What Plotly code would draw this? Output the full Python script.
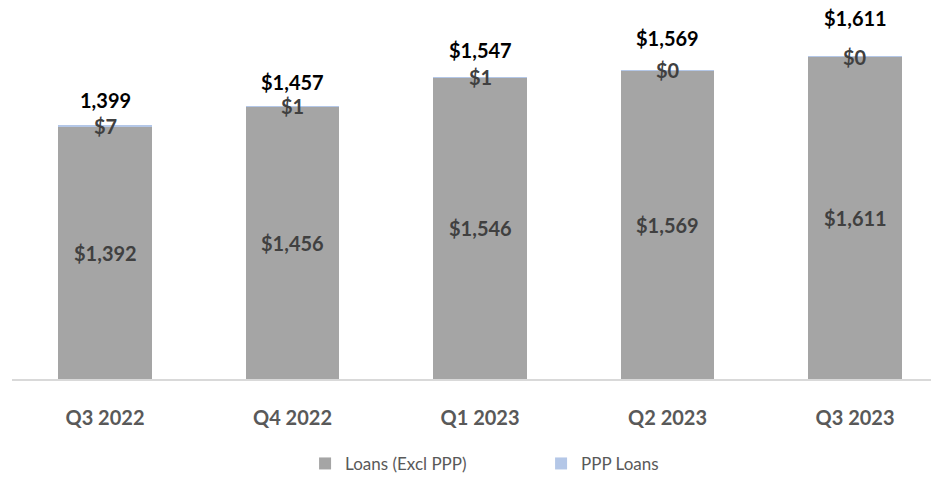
import plotly.graph_objects as go

categories = ["Q3 2022", "Q4 2022", "Q1 2023", "Q2 2023", "Q3 2023"]
loans_excl_ppp = [1392, 1456, 1546, 1569, 1611]
ppp_loans = [7, 1, 1, 0.3, 0.2]
ppp_labels = ["$7", "$1", "$1", "$0", "$0"]
loans_labels = ["$1,392", "$1,456", "$1,546", "$1,569", "$1,611"]
totals = [1399, 1457, 1547, 1569, 1611]
total_labels = ["1,399", "$1,457", "$1,547", "$1,569", "$1,611"]
total_label_shift = [25, 24, 27, 32, 39]

Y_MIN = 606
Y_MAX = 1772

FONT = "Lato"
GRAY = "#A5A5A5"
BLUE = "#B4C7E7"

fig = go.Figure()
fig.add_trace(go.Bar(name="Loans (Excl PPP)", x=categories, y=loans_excl_ppp,
                     marker=dict(color=GRAY, line=dict(width=0)), hoverinfo="skip"))
fig.add_trace(go.Bar(name="PPP Loans", x=categories, y=ppp_loans,
                     marker=dict(color=BLUE, line=dict(width=0)), hoverinfo="skip"))

annotations = []
for i, c in enumerate(categories):
    annotations.append(dict(x=c, y=(Y_MIN + loans_excl_ppp[i]) / 2, text=f"<b>{loans_labels[i]}</b>",
                            showarrow=False, font=dict(family=FONT, size=20, color="#404040")))
    annotations.append(dict(x=c, y=loans_excl_ppp[i] + ppp_loans[i] / 2, text=f"<b>{ppp_labels[i]}</b>",
                            showarrow=False, font=dict(family=FONT, size=20, color="#404040")))
    annotations.append(dict(x=c, y=totals[i], yshift=total_label_shift[i], text=f"<b>{total_labels[i]}</b>",
                            showarrow=False, font=dict(family=FONT, size=20, color="#000000")))

fig.update_layout(
    barmode="stack",
    bargap=0.5,
    width=932, height=477,
    margin=dict(l=12, r=1, t=5, b=98, autoexpand=False),
    plot_bgcolor="white", paper_bgcolor="white",
    font=dict(family=FONT, color="#595959"),
    showlegend=True,
    legend=dict(orientation="h", x=0.3189, xanchor="left", y=-0.227, yanchor="middle",
                font=dict(family=FONT, size=17, color="#595959"), traceorder="normal",
                itemwidth=30, entrywidth=191),
    annotations=annotations,
    xaxis=dict(range=[-0.496, 4.405], showline=True, linecolor="#D9D9D9", linewidth=1.5,
               ticks="", ticklabelstandoff=20, automargin=False,
               tickfont=dict(family=FONT, size=20, color="#595959"),
               tickvals=categories, ticktext=[f"<b>{c}</b>" for c in categories]),
    yaxis=dict(range=[Y_MIN, Y_MAX], visible=False, showgrid=False, zeroline=False, automargin=False),
)

fig.write_html("out.html", config={"displayModeBar": False},
               post_script="document.body.style.margin='0';")
